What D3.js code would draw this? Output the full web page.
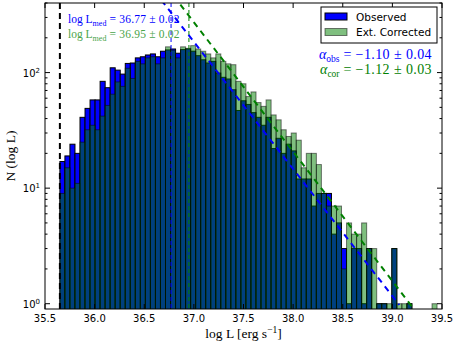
<!DOCTYPE html>
<html>
<head>
<meta charset="utf-8">
<script src="https://cdnjs.cloudflare.com/ajax/libs/d3/7.8.5/d3.min.js"></script>
<style>
body { margin: 0; background: #fff; }
text { font-family: "DejaVu Sans", sans-serif; }
.serif { font-family: "Liberation Serif", "DejaVu Serif", serif; }
</style>
</head>
<body>
<svg id="chart" width="456" height="347"></svg>
<script>
// histogram of log L: observed vs extinction corrected

var binStart = 35.65, binWidth = 0.05067;

var observed = [17, 19, 24, 20, 41, 49, 58, 58, 84, 74, 110, 105, 97, 120, 121,
  134, 137, 142, 145, 137, 153, 157, 160, 147, 158, 160, 153, 140, 129, 121,
  125, 99, 91, 88, 71, 47, 57, 53, 45, 41, 35, 41, 22, 27, 20,
  24, 21, 12, 12, 12, 7, 9, 9, 9, 4, 5, 3, 1, 3, 3,
  1, 3, 0, 1, 1, 0, 3, 0, 0, 1, 0, 0, 0, 0, 0];

var corrected = [9, 15, 10, 11, 25, 32, 35, 32, 42, 52, 65, 83, 76, 109, 89,
  125, 119, 134, 137, 119, 134, 167, 156, 134, 167, 162, 171, 160, 153, 145,
  134, 145, 125, 119, 117, 84, 80, 62, 68, 55, 51, 58, 43, 39, 32,
  28, 30, 26, 15, 20, 20, 16, 9, 7, 7, 7, 2, 5, 4, 4,
  5, 3, 3, 1, 1, 1, 3, 1, 1, 1, 0, 0, 0, 0, 1];

var xTicks = [35.5, 36.0, 36.5, 37.0, 37.5, 38.0, 38.5, 39.0, 39.5];
var yTicks = [1, 10, 100];
var yExp = ["0", "1", "2"];

var completeness = 35.65;
var medObs = 36.77, medCor = 36.95;
// power-law fits: slope and the log L where N = 1
var fitObs = {slope: -1.10, zero: 39.06, range: [35.65, 39.07]};
var fitCor = {slope: -1.12, zero: 39.175, range: [35.65, 39.2]};

var width = 456, height = 347,
    margin = {top: 3, right: 14, bottom: 38, left: 45};

var svg = d3.select("#chart");

var x = d3.scaleLinear().domain([35.5, 39.5]).range([margin.left, width - margin.right]);
var y = d3.scaleLog().domain([0.9, 400]).range([height - margin.bottom, margin.top]);

svg.append("clipPath").attr("id", "clip")
  .append("rect")
  .attr("x", x.range()[0]).attr("y", y.range()[1])
  .attr("width", x.range()[1] - x.range()[0])
  .attr("height", y.range()[0] - y.range()[1]);

var plot = svg.append("g").attr("clip-path", "url(#clip)");

function bars(data, cls) {
  var rows = data.map(function(d, i) { return {i: i, n: d}; })
    .filter(function(d) { return d.n > 0; });
  return plot.append("g").attr("class", cls)
    .selectAll("rect").data(rows).enter().append("rect")
      .attr("x", function(d) { return x(binStart + d.i * binWidth); })
      .attr("width", function(d) { return x(binStart + (d.i + 1) * binWidth) - x(binStart + d.i * binWidth); })
      .attr("y", function(d) { return y(d.n); })
      .attr("height", function(d) { return y.range()[0] + 5 - y(d.n); });
}

bars(observed, "obs").attr("fill", "#0000ff").attr("stroke", "#000").attr("stroke-width", 1);
bars(corrected, "cor").attr("fill", "#008000").attr("fill-opacity", 0.5)
  .attr("stroke", "#000").attr("stroke-opacity", 0.5).attr("stroke-width", 1);

// vertical markers
function vline(v, color, w, dash) {
  plot.append("line")
    .attr("x1", x(v)).attr("x2", x(v))
    .attr("y1", y.range()[1]).attr("y2", y.range()[0])
    .attr("stroke", color).attr("stroke-width", w)
    .attr("stroke-dasharray", dash);
}
vline(completeness, "#000", 2, "6,4");
vline(medObs, "#0000ff", 1, "4,3");
vline(medCor, "#008000", 1, "4,3");

// fit lines
function fitLine(f, color) {
  var pts = f.range.map(function(l) { return [l, Math.pow(10, f.slope * (l - f.zero))]; });
  plot.append("path")
    .attr("d", d3.line().x(function(d) { return x(d[0]); }).y(function(d) { return y(d[1]); })(pts))
    .attr("fill", "none").attr("stroke", color).attr("stroke-width", 2)
    .attr("stroke-dasharray", "6,5");
}
fitLine(fitObs, "#0000ff");
fitLine(fitCor, "#008000");

// frame
svg.append("rect")
  .attr("x", x.range()[0]).attr("y", y.range()[1])
  .attr("width", x.range()[1] - x.range()[0])
  .attr("height", y.range()[0] - y.range()[1])
  .attr("fill", "none").attr("stroke", "#000").attr("stroke-width", 1);

// ticks (inside, all four sides)
var ticks = svg.append("g").attr("stroke", "#000").attr("stroke-width", 1);
var x0 = x.range()[0], x1 = x.range()[1], yb = y.range()[0], yt = y.range()[1];
xTicks.forEach(function(t) {
  ticks.append("line").attr("x1", x(t)).attr("x2", x(t)).attr("y1", yb).attr("y2", yb - 5);
  ticks.append("line").attr("x1", x(t)).attr("x2", x(t)).attr("y1", yt).attr("y2", yt + 5);
});
var minor = [];
[1, 10, 100].forEach(function(dec) {
  for (var k = 2; k <= 9; k++) if (dec * k <= 400) minor.push(dec * k);
});
minor.forEach(function(t) {
  ticks.append("line").attr("x1", x0).attr("x2", x0 + 2.5).attr("y1", y(t)).attr("y2", y(t));
  ticks.append("line").attr("x1", x1).attr("x2", x1 - 2.5).attr("y1", y(t)).attr("y2", y(t));
});
yTicks.forEach(function(t) {
  ticks.append("line").attr("x1", x0).attr("x2", x0 + 5).attr("y1", y(t)).attr("y2", y(t));
  ticks.append("line").attr("x1", x1).attr("x2", x1 - 5).attr("y1", y(t)).attr("y2", y(t));
});

// tick labels
svg.append("g").selectAll("text").data(xTicks).enter().append("text")
  .attr("x", function(d) { return x(d); })
  .attr("y", yb + 13)
  .attr("text-anchor", "middle")
  .attr("font-size", "10px")
  .text(function(d) { return d3.format(".1f")(d); });

var yl = svg.append("g").selectAll("text").data(yTicks).enter().append("text")
  .attr("x", x0 - 5)
  .attr("y", function(d) { return y(d) + 4; })
  .attr("text-anchor", "end")
  .attr("font-size", "10px");
yl.append("tspan").text("10");
yl.append("tspan").attr("dy", -4).attr("font-size", "7px")
  .text(function(d, i) { return yExp[i]; });

// axis labels
var xl = svg.append("text").attr("class", "serif")
  .attr("x", (x0 + x1) / 2).attr("y", 338)
  .attr("text-anchor", "middle").attr("font-size", "13.5px");
xl.append("tspan").text("log L [erg s");
xl.append("tspan").attr("dy", -5).attr("font-size", "9.5px").text("\u22121");
xl.append("tspan").attr("dy", 5).text("]");

svg.append("text").attr("class", "serif")
  .attr("transform", "translate(15," + ((yb + yt) / 2) + ") rotate(-90)")
  .attr("text-anchor", "middle").attr("font-size", "13.5px")
  .text("N (log L)");

// median annotations
function medText(v, color, yy) {
  var t = svg.append("text").attr("class", "serif")
    .attr("x", 68).attr("y", yy).attr("font-size", "11.5px").attr("fill", color);
  t.append("tspan").text("log L");
  t.append("tspan").attr("dy", 2.5).attr("font-size", "8px").text("med");
  t.append("tspan").attr("dy", -2.5).attr("letter-spacing", "0.2px")
    .text(" = " + d3.format(".2f")(v) + " \u00b1 0.02");
}
medText(medObs, "#0000ff", 23);
medText(medCor, "#49a449", 38);

// slope annotations
function alphaText(sub, v, err, color, yy) {
  var t = svg.append("text").attr("class", "serif")
    .attr("x", 432).attr("y", yy).attr("text-anchor", "end")
    .attr("font-size", "14px").attr("fill", color);
  t.append("tspan").attr("font-style", "italic").text("\u03b1");
  t.append("tspan").attr("dy", 3).attr("font-size", "9.5px").text(sub);
  t.append("tspan").attr("dy", -3).attr("letter-spacing", "0.4px")
    .text(" = \u2212" + d3.format(".2f")(-v) + " \u00b1 " + err);
}
alphaText("obs", fitObs.slope, "0.04", "#0000ff", 59);
alphaText("cor", fitCor.slope, "0.03", "#008000", 74);

// legend
var lg = svg.append("g").attr("transform", "translate(321,7)");
lg.append("rect").attr("width", 116).attr("height", 36)
  .attr("fill", "#fff").attr("stroke", "#000").attr("stroke-width", 1);
var entries = [
  {label: "Observed", fill: "#0000ff", op: 1},
  {label: "Ext. Corrected", fill: "#008000", op: 0.5}
];
entries.forEach(function(e, i) {
  lg.append("rect").attr("x", 4).attr("y", 6 + i * 15.5).attr("width", 22).attr("height", 7)
    .attr("fill", e.fill).attr("fill-opacity", e.op)
    .attr("stroke", "#000").attr("stroke-opacity", e.op);
  lg.append("text").attr("x", 35).attr("y", 13.5 + i * 15.5)
    .attr("font-size", "10.5px").text(e.label);
});
</script>
</body>
</html>
